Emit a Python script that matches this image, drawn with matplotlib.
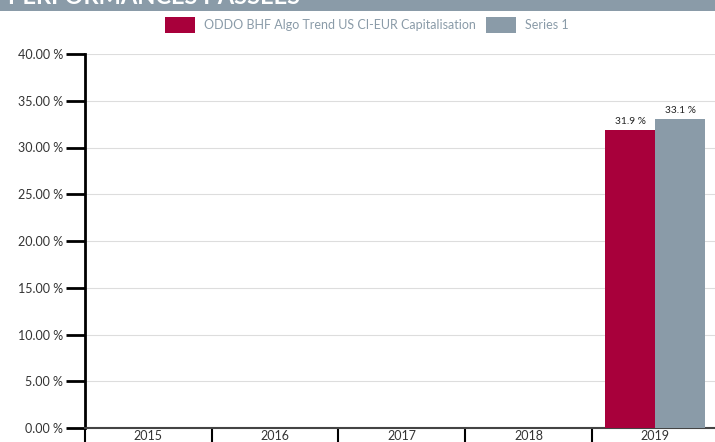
import matplotlib
matplotlib.use("Agg")
import matplotlib.pyplot as plt
from matplotlib.patches import Rectangle
from matplotlib.ticker import FixedLocator, FuncFormatter
import numpy as np

years = ["2015", "2016", "2017", "2018", "2019"]
fund = [np.nan, np.nan, np.nan, np.nan, 31.9]
series1 = [np.nan, np.nan, np.nan, np.nan, 33.1]
fund_name = "ODDO BHF Algo Trend US CI-EUR Capitalisation"
series_name = "Series 1"
title = "PERFORMANCES PASSEES"

RED = "#a8003b"
GRAY = "#8a9ba8"
plt.rcParams['font.family'] = ['Lato', 'DejaVu Sans']

W, H = 715, 442
fig = plt.figure(figsize=(W / 100, H / 100), dpi=100)
fig.patch.set_facecolor("white")

# header band
fig.patches.append(Rectangle((0, 1 - 11 / H), 1, 11 / H, transform=fig.transFigure,
                             facecolor=GRAY, edgecolor="none", zorder=0))
fig.text(8 / W, 1 - 3.5 / H, title, color="white", fontsize=17, fontweight="bold",
         ha="left", va="baseline")

left, right = 85, 718.5
top, bottom = 54, 428
ax = fig.add_axes([left / W, 1 - bottom / H, (right - left) / W, (bottom - top) / H])

x = np.arange(len(years))
bw = 0.39
off = 0.197
b1 = ax.bar(x - off, fund, width=bw, color=RED, label=fund_name, zorder=3)
b2 = ax.bar(x + off, series1, width=bw, color=GRAY, label=series_name, zorder=3)

for xi, v in zip(x, fund):
    if not np.isnan(v):
        ax.text(xi - off, v + 0.4, f"{v:.1f} %", ha="center", va="bottom", fontsize=7.3, color="#222222")
for xi, v in zip(x, series1):
    if not np.isnan(v):
        ax.text(xi + off, v + 0.4, f"{v:.1f} %", ha="center", va="bottom", fontsize=7.3, color="#222222")

ax.set_xlim(-0.5, len(years) - 0.5)
ax.set_ylim(0, 40)
ax.yaxis.set_major_locator(FixedLocator(np.arange(0, 41, 5)))
ax.yaxis.set_major_formatter(FuncFormatter(lambda v, p: f"{v:.2f} %"))
ax.tick_params(axis="y", length=13.7, width=2, color="black", labelsize=9, labelcolor="#333333", pad=2)

ax.set_xticks(x)
ax.set_xticklabels(years)
ax.set_xticks(np.arange(-0.5, len(years)), minor=True)
ax.tick_params(axis="x", which="major", length=0, labelsize=9, labelcolor="#333333", pad=1.5)
ax.tick_params(axis="x", which="minor", length=12, width=1.5, color="black")

ax.grid(axis="y", color="#dddddd", linewidth=0.8, zorder=0)
ax.set_axisbelow(True)
for s in ["top", "right"]:
    ax.spines[s].set_visible(False)
ax.spines["left"].set_linewidth(2)
ax.spines["left"].set_color("black")
ax.spines["bottom"].set_linewidth(1.5)
ax.spines["bottom"].set_color("#444444")

leg = fig.legend(handles=[b1, b2], loc="center left", bbox_to_anchor=(165 / W, 1 - 25 / H),
                 ncol=2, frameon=False, prop={"size": 9},
                 handlelength=2.4, handleheight=1.6,
                 handletextpad=0.75, columnspacing=0.75, borderaxespad=0, borderpad=0)
for t in leg.get_texts():
    t.set_color("#8a9ba8")

fig.savefig("out.png", dpi=100)
